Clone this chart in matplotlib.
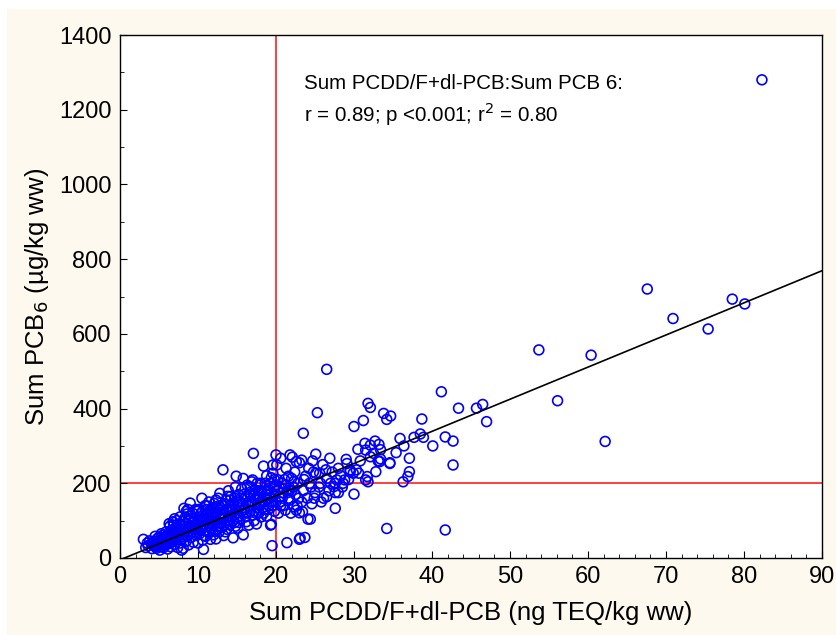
import matplotlib
matplotlib.use("Agg")
import matplotlib.pyplot as plt
from matplotlib.patches import Rectangle
from matplotlib.ticker import MultipleLocator

plt.rcParams['font.family'] = ['Liberation Sans', 'DejaVu Sans']

# (Sum PCDD/F+dl-PCB ng TEQ/kg ww, Sum PCB6 ug/kg ww)
low_pts = [
    (3.0, 50), (3.3, 28), (3.5, 40), (3.6, 33), (3.8, 46), (4.0, 38), (4.1, 25),
    (4.2, 42), (4.3, 33), (4.4, 45), (4.5, 36), (4.5, 58), (4.6, 30), (4.7, 26),
    (4.8, 52), (4.9, 40), (5.0, 35), (5.0, 55), (5.1, 21), (5.2, 48), (5.3, 30),
    (5.3, 65), (5.4, 60), (5.5, 42), (5.5, 50), (5.6, 28), (5.7, 55), (5.7, 38),
    (5.8, 35), (5.9, 70), (6.0, 45), (6.0, 60), (6.1, 24), (6.2, 38), (6.2, 52),
    (6.3, 62), (6.4, 50), (6.4, 85), (6.5, 30), (6.5, 58), (6.6, 75), (6.7, 43),
    (6.8, 97), (6.8, 64), (6.9, 56), (6.9, 88), (7.0, 36), (7.0, 78), (7.1, 66),
    (7.2, 48), (7.2, 60), (7.3, 82), (7.3, 100), (7.4, 28), (7.5, 58), (7.5, 72),
    (7.6, 90), (7.7, 40), (7.7, 110), (7.8, 70), (7.8, 56), (7.9, 21), (8.0, 52),
    (8.0, 88), (8.1, 26), (8.1, 98), (8.2, 133), (8.3, 62), (8.3, 75), (8.4, 110),
    (8.5, 45), (8.6, 85), (8.6, 118), (8.7, 130), (8.8, 35), (8.9, 72), (8.9, 100),
    (9.0, 147), (9.1, 55), (9.2, 95), (9.3, 120), (9.4, 42), (9.5, 68),
    (9.6, 105), (9.7, 80), (9.8, 60), (9.9, 125),
    (5.2, 38), (5.6, 45), (6.1, 55), (6.3, 40), (6.6, 48), (6.7, 68), (7.1, 52),
    (7.4, 80), (7.6, 65), (7.9, 85), (8.2, 70), (8.4, 92), (8.7, 60), (8.8, 105),
    (9.0, 80), (9.1, 112), (9.3, 88), (9.5, 98), (9.7, 130), (9.8, 92), (9.9, 75),
    (9.2, 70), (8.5, 125), (7.0, 105), (6.3, 92),
]

mid_pts = [
    (10.0, 40), (10.0, 90), (10.1, 130), (10.2, 65), (10.2, 85), (10.3, 110),
    (10.4, 75), (10.4, 120), (10.5, 160), (10.5, 100), (10.6, 48), (10.7, 23),
    (10.8, 100), (10.8, 60), (10.9, 140), (10.9, 75), (11.0, 58), (11.0, 105),
    (11.1, 85), (11.1, 140), (11.2, 120), (11.3, 70), (11.3, 92), (11.4, 150),
    (11.5, 95), (11.5, 68), (11.6, 50), (11.6, 115), (11.7, 130), (11.8, 80),
    (11.8, 100), (11.9, 110), (12.0, 62), (12.0, 88), (12.1, 146), (12.2, 100),
    (12.2, 115), (12.3, 51), (12.3, 72), (12.4, 125), (12.5, 85), (12.5, 135),
    (12.6, 160), (12.6, 78), (12.7, 70), (12.8, 173), (12.8, 95), (12.9, 108),
    (13.0, 92), (13.0, 120), (13.1, 140), (13.1, 82), (13.2, 236), (13.3, 60),
    (13.3, 105), (13.4, 118), (13.4, 90), (13.5, 70), (13.6, 155), (13.6, 128),
    (13.7, 77), (13.8, 100), (13.9, 180), (13.9, 112), (14.0, 130), (14.0, 100),
    (14.1, 88), (14.2, 165), (14.2, 140), (14.3, 110), (14.4, 125), (14.5, 54),
    (14.6, 145), (14.6, 115), (14.7, 95), (14.7, 160), (14.8, 190), (14.8, 85),
    (14.9, 219), (15.0, 120), (15.0, 150), (15.1, 80), (15.2, 170), (15.3, 140),
    (15.3, 95), (15.4, 105), (15.5, 160), (15.6, 185), (15.8, 62), (15.8, 213),
    (15.9, 130),
    (10.1, 95), (10.3, 80), (10.6, 125), (10.7, 105), (11.0, 130), (11.2, 98),
    (11.4, 110), (11.7, 90), (11.9, 135), (12.1, 120), (12.4, 100), (12.7, 140),
    (12.9, 128), (13.2, 110), (13.5, 145), (13.7, 125), (14.1, 155), (14.3, 135),
    (14.5, 100), (14.9, 130), (15.1, 110), (15.4, 150), (15.6, 125), (15.9, 170),
    (15.7, 145), (13.8, 165), (12.3, 155), (11.5, 125),
]

upper_pts = [
    (16.0, 160), (16.0, 130), (16.1, 110), (16.2, 97), (16.3, 195), (16.3, 120),
    (16.4, 140), (16.5, 88), (16.5, 150), (16.6, 175), (16.7, 125), (16.7, 190),
    (16.8, 170), (16.9, 204), (17.0, 150), (17.0, 209), (17.0, 115), (17.1, 280),
    (17.2, 100), (17.3, 182), (17.3, 145), (17.5, 91), (17.5, 135), (17.6, 165),
    (17.7, 180), (17.8, 120), (17.9, 195), (17.9, 140), (18.0, 145), (18.0, 200),
    (18.1, 110), (18.2, 175), (18.2, 150), (18.4, 246), (18.4, 120), (18.5, 130),
    (18.6, 200), (18.7, 170), (18.8, 112), (18.9, 160), (19.0, 185), (19.0, 130),
    (19.1, 140), (19.2, 160), (19.3, 88), (19.3, 200), (19.4, 90), (19.4, 215),
    (19.5, 33), (19.6, 227), (19.6, 249), (19.6, 140), (19.7, 170), (19.8, 125),
    (19.8, 210), (19.9, 195), (20.0, 276), (20.0, 150), (20.1, 249), (20.2, 180),
    (20.3, 120), (20.4, 190), (20.5, 165), (20.6, 267), (20.6, 140), (20.7, 200),
    (20.8, 160), (20.9, 140), (21.0, 185), (21.1, 210), (21.2, 128), (21.3, 240),
    (21.4, 41), (21.5, 175), (21.6, 219), (21.7, 180), (21.8, 276), (21.8, 155),
    (21.9, 120), (22.0, 213), (22.1, 270), (22.2, 190), (22.3, 137), (22.4, 230),
    (22.5, 170), (22.6, 258), (22.6, 128), (22.7, 140), (22.8, 200), (22.9, 160),
    (23.0, 255), (23.0, 121), (23.0, 50), (23.1, 53), (23.3, 262), (23.3, 150),
    (23.4, 124), (23.5, 334), (23.5, 180), (23.6, 210), (23.7, 55), (23.8, 219),
    (24.0, 160), (24.1, 104), (24.2, 240), (24.3, 200), (24.4, 104), (24.5, 190),
    (24.6, 145), (24.7, 260), (24.8, 230), (24.9, 160),
    (16.2, 165), (16.6, 140), (16.9, 150), (17.2, 170), (17.4, 120), (17.8, 160),
    (18.1, 180), (18.3, 135), (18.6, 150), (18.9, 180), (19.1, 170), (19.4, 150),
    (19.7, 190), (20.2, 210), (20.5, 150), (20.9, 175), (21.3, 195), (21.6, 160),
    (22.0, 180), (22.3, 205), (17.6, 200), (18.8, 220),
]

high_pts = [
    (25.0, 175), (25.1, 278), (25.1, 227), (25.3, 389), (25.5, 190), (25.6, 227),
    (25.7, 200), (25.8, 150), (26.0, 250), (26.1, 160), (26.4, 236), (26.5, 213),
    (26.5, 164), (26.5, 505), (26.8, 180), (26.9, 267), (27.0, 200), (27.2, 230),
    (27.4, 191), (27.6, 200), (27.6, 175), (27.6, 133), (27.8, 209), (28.0, 240),
    (28.0, 175), (28.3, 220), (28.5, 190), (28.6, 200), (28.8, 209), (29.0, 264),
    (29.1, 253), (29.3, 210), (29.5, 236), (29.5, 231), (29.9, 227), (30.0, 352),
    (30.0, 171), (30.3, 236), (30.5, 291), (30.6, 227), (30.8, 260), (31.2, 368),
    (31.4, 307), (31.5, 289), (31.5, 209), (31.7, 218), (31.8, 204), (31.8, 414),
    (32.1, 403), (32.1, 302), (32.1, 271), (32.5, 280), (32.7, 313), (32.8, 231),
    (33.1, 260), (33.2, 304), (33.3, 258), (33.4, 290), (33.4, 265), (33.8, 387),
    (34.2, 371), (34.2, 79), (34.6, 255), (34.6, 253), (34.7, 380), (35.4, 282),
    (35.9, 320), (36.3, 204), (36.4, 300), (36.9, 218), (37.1, 267), (37.1, 231),
    (37.7, 323), (38.5, 332), (38.7, 372), (38.9, 323), (40.1, 300), (41.2, 445),
    (41.7, 324), (41.7, 75), (42.7, 313), (42.7, 249), (43.4, 401), (45.7, 401),
    (46.5, 411), (47.0, 365), (53.7, 557), (56.1, 421), (60.4, 543), (62.2, 312),
    (67.6, 720), (70.9, 641), (75.4, 613), (78.5, 693), (80.1, 680), (82.3, 1280),
]

# regression line
fit_slope = 8.6
fit_intercept = -5.0
fit_range = [0, 90]

teq_limit = 20
pcb_limit = 200

points = low_pts + mid_pts + upper_pts + high_pts
teq = [p[0] for p in points]
pcb6 = [p[1] for p in points]

fig = plt.figure(figsize=(8.37, 6.35), dpi=100, facecolor='white')
fig.patches.append(Rectangle((7 / 837, 0), 1, 1 - 9 / 635, transform=fig.transFigure,
                             facecolor='#fdf9ee', edgecolor='none', zorder=-10))
ax = fig.add_axes([120 / 837, 77 / 635, 702 / 837, 523 / 635])
ax.set_facecolor('white')

ax.axvline(teq_limit, color='#ff3030', lw=1.3, zorder=1)
ax.axhline(pcb_limit, color='#ff3030', lw=1.3, zorder=1)
ax.plot(fit_range, [fit_intercept + fit_slope * v for v in fit_range],
        color='black', lw=1.2, zorder=3)
ax.scatter(teq, pcb6, s=50, facecolors='none', edgecolors='#0000ff',
           linewidths=1.2, zorder=2)

ax.set_xlim(0, 90)
ax.set_ylim(0, 1400)
ax.xaxis.set_major_locator(MultipleLocator(10))
ax.xaxis.set_minor_locator(MultipleLocator(2))
ax.yaxis.set_major_locator(MultipleLocator(200))
ax.yaxis.set_minor_locator(MultipleLocator(100))
ax.tick_params(which='both', direction='in', labelsize=17, pad=6)
ax.tick_params(which='major', length=5)
ax.tick_params(which='minor', length=3)
for sp in ax.spines.values():
    sp.set_linewidth(1.0)

ax.set_xlabel('Sum PCDD/F+dl-PCB (ng TEQ/kg ww)', fontsize=18.5, labelpad=9)
ax.set_ylabel('Sum PCB$_6$ (µg/kg ww)', fontsize=18.5, labelpad=6)

ax.text(0.262, 0.925, 'Sum PCDD/F+dl-PCB:Sum PCB 6:\nr = 0.89; p <0.001; r$^2$ = 0.80',
        transform=ax.transAxes, fontsize=14.8, va='top', ha='left', linespacing=1.35)

fig.savefig('out.png', dpi=100, facecolor=fig.get_facecolor())
